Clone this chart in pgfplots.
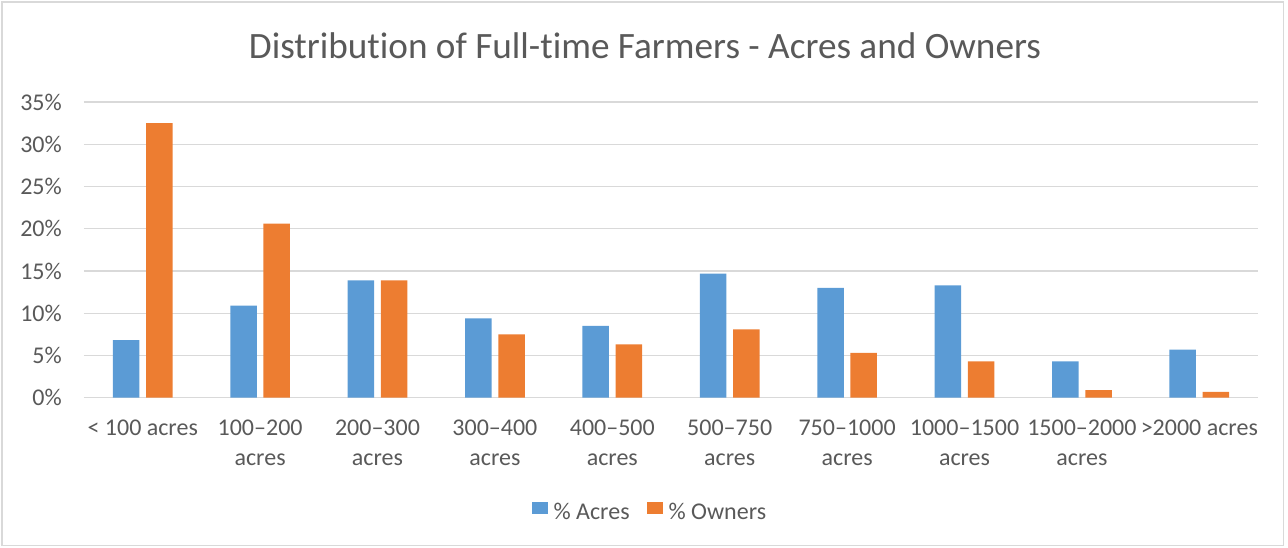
\documentclass[border=0pt]{standalone}
\usepackage{pgfplots}
\pgfplotsset{compat=1.18}
\usepackage{fontspec}
\setmainfont{Carlito}[Ligatures={NoCommon}]

\definecolor{acresblue}{HTML}{5B9BD5}
\definecolor{ownersorange}{HTML}{ED7D31}
\definecolor{gridgray}{HTML}{D9D9D9}
\definecolor{labelgray}{HTML}{595959}

% Share of acreage and of owners in each farm-size class (percent)
\pgfplotstableread{
idx acres owners
0   6.8   32.5
1   10.9  20.6
2   13.9  13.9
3   9.4   7.5
4   8.5   6.3
5   14.7  8.1
6   13.0  5.3
7   13.3  4.3
8   4.3   0.9
9   5.7   0.7
}\farmdata

\begin{document}
\begin{tikzpicture}[x=1pt,y=1pt]
\useasboundingbox (0,0) rectangle (1288,548);
% chart frame
\draw[draw=gridgray, line width=1.2pt] (2,2.5) rectangle (1283.5,546);
% title
\node[anchor=base, text=labelgray, inner sep=0pt,
      font=\fontsize{37.2}{42}\selectfont]
  at (645,489.7) {Distribution of Full-time Farmers - Acres and Owners};

\begin{axis}[
  at={(84pt,150.3pt)}, anchor=south west,
  scale only axis, width=1174pt, height=295.7pt,
  xmin=-0.5, xmax=9.5, ymin=0, ymax=35,
  axis line style={draw=none},
  major tick length=0pt,
  tick style={draw=none},
  ymajorgrids,
  grid style={draw=gridgray, line width=1.3pt},
  ytick={0,5,10,15,20,25,30,35},
  yticklabels={0\%,5\%,10\%,15\%,20\%,25\%,30\%,35\%},
  yticklabel style={anchor=east, inner sep=0pt, xshift=-22pt,
                    text=labelgray, font=\fontsize{24}{30}\selectfont},
  xtick={0,...,9},
  xticklabels={{< 100 acres},{100--200\\acres},{200--300\\acres},
               {300--400\\acres},{400--500\\acres},{500--750\\acres},
               {750--1000\\acres},{1000--1500\\acres},{1500--2000\\acres},
               {>2000 acres}},
  xticklabel style={align=center, anchor=north, inner sep=0pt, yshift=-22pt,
                    text=labelgray, font=\fontsize{24}{30}\selectfont},
  ybar, bar width=26.5pt,
  legend columns=2,
  legend style={at={(0.482,-0.3855)}, anchor=center, draw=none, fill=none,
                font=\fontsize{24}{30}\selectfont, text=labelgray,
                /tikz/every even column/.append style={column sep=15pt},
                inner sep=0pt},
  legend image code/.code={\fill[#1] (0pt,-2pt) rectangle (16pt,10pt);},
]
\addplot[fill=acresblue, draw=none, bar shift=-16.6pt]
  table[x=idx, y=acres] {\farmdata};
\addlegendentry{\hspace{4pt}\% Acres}
\addplot[fill=ownersorange, draw=none, bar shift=16.6pt]
  table[x=idx, y=owners] {\farmdata};
\addlegendentry{\hspace{4pt}\% Owners}
\end{axis}
\end{tikzpicture}
\end{document}
